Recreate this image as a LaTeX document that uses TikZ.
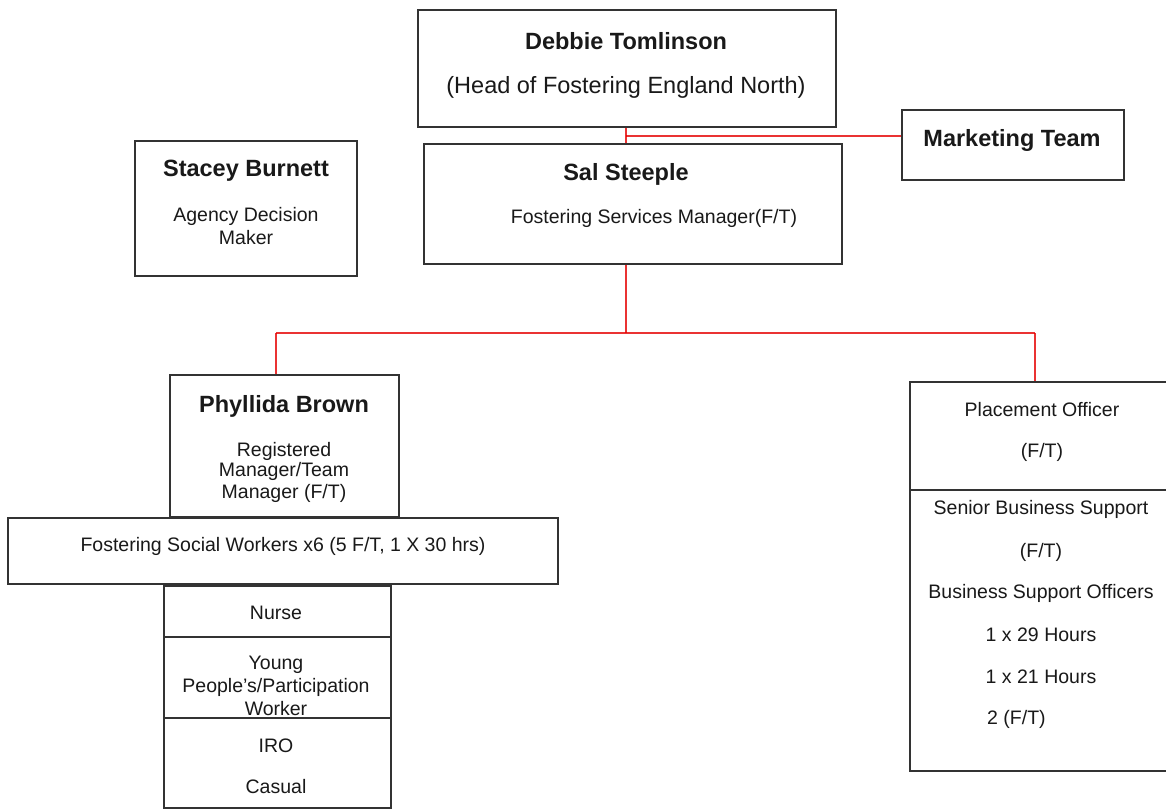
\documentclass[tikz,border=0pt]{standalone}
\usepackage{fontspec}
\setmainfont{Liberation Sans}
\begin{document}
\begin{tikzpicture}[x=1pt,y=-1pt,
  box/.style={draw=black!80, line width=1.3pt, inner sep=0pt, rectangle},
  conn/.style={draw=red!90!black, line width=1.4pt, opacity=0.8},
  ttl/.style={font=\fontsize{23.5}{28}\selectfont\bfseries, text=black!90, inner sep=0pt},
  txt/.style={font=\fontsize{19.5}{23}\selectfont, text=black!90, inner sep=0pt},
  big/.style={font=\fontsize{23.5}{28}\selectfont, text=black!90, inner sep=0pt}]
\useasboundingbox (0,0) rectangle (1166,811);
\fill[white] (0,0) rectangle (1166,811);
% boxes
\node[box, minimum width=418pt, minimum height=117pt] (debbie) at (627,68.5) {};
\node[box, minimum width=222pt, minimum height=70pt] (marketing) at (1013,145) {};
\node[box, minimum width=418pt, minimum height=120pt] (sal) at (633,204) {};
\node[box, minimum width=222pt, minimum height=135pt] (stacey) at (246,208.5) {};
\node[box, minimum width=229pt, minimum height=142pt] (phyllida) at (284.5,446) {};
\node[box, minimum width=550pt, minimum height=66pt] (fsw) at (283,551) {};
\node[box, minimum width=227pt, minimum height=51pt] (nurse) at (277.5,611.5) {};
\node[box, minimum width=227pt, minimum height=81pt] (ypw) at (277.5,677.5) {};
\node[box, minimum width=227pt, minimum height=90pt] (iro) at (277.5,763) {};
\node[box, minimum width=265pt, minimum height=108pt] (po) at (1042.5,436) {};
\node[box, minimum width=265pt, minimum height=281pt] (bs) at (1042.5,630.5) {};
% texts
\node[ttl] (t-debbie) at (626,41) {Debbie Tomlinson};
\node[big] (t-head) at (626,87) {(Head of Fostering England North)};
\node[ttl] (t-marketing) at (1012,140) {Marketing Team};
\node[ttl] (t-sal) at (626,174) {Sal Steeple};
\node[txt] (t-fsm) at (654,218) {Fostering Services Manager(F/T)};
\node[ttl] (t-stacey) at (246,171) {Stacey Burnett};
\node[txt] (t-adm1) at (246,216) {Agency Decision};
\node[txt] (t-adm2) at (246,238) {Maker};
\node[ttl] (t-phyllida) at (284,406) {Phyllida Brown};
\node[txt] (t-rm1) at (284,451) {Registered};
\node[txt] (t-rm2) at (284,471) {Manager/Team};
\node[txt] (t-rm3) at (284,493) {Manager (F/T)};
\node[txt] (t-fsw) at (283,546) {Fostering Social Workers x6 (5 F/T, 1 X 30 hrs)};
\node[txt] (t-nurse) at (276,613) {Nurse};
\node[txt] (t-yp1) at (276,665) {Young};
\node[txt] (t-yp2) at (276,687) {People’s/Participation};
\node[txt] (t-yp3) at (276,709) {Worker};
\node[txt] (t-iro) at (276,746) {IRO};
\node[txt] (t-casual) at (276,787) {Casual};
\node[txt] (t-po1) at (1042,410) {Placement Officer};
\node[txt] (t-po2) at (1042,452) {(F/T)};
\node[txt] (t-bs1) at (1041,509) {Senior Business Support};
\node[txt] (t-bs2) at (1041,552) {(F/T)};
\node[txt] (t-bs3) at (1041,593) {Business Support Officers};
\node[txt] (t-bs4) at (1041,635) {1 x 29 Hours};
\node[txt] (t-bs5) at (1041,677) {1 x 21 Hours};
\node[txt, anchor=west] (t-bs6) at (987,719) {2 (F/T)};
% connectors
\coordinate (j1) at (626,136);
\draw[conn] (debbie.south -| j1) -- (sal.north -| j1);
\draw[conn] (j1) -- (marketing.west |- j1);
\coordinate (j2) at (626,333);
\coordinate (jl) at (276,333);
\coordinate (jr) at (1035,333);
\draw[conn] (sal.south -| j2) -- (j2);
\draw[conn] (jl) -- (jr);
\draw[conn] (jl) -- (phyllida.north -| jl);
\draw[conn] (jr) -- (po.north -| jr);
\end{tikzpicture}
\end{document}
